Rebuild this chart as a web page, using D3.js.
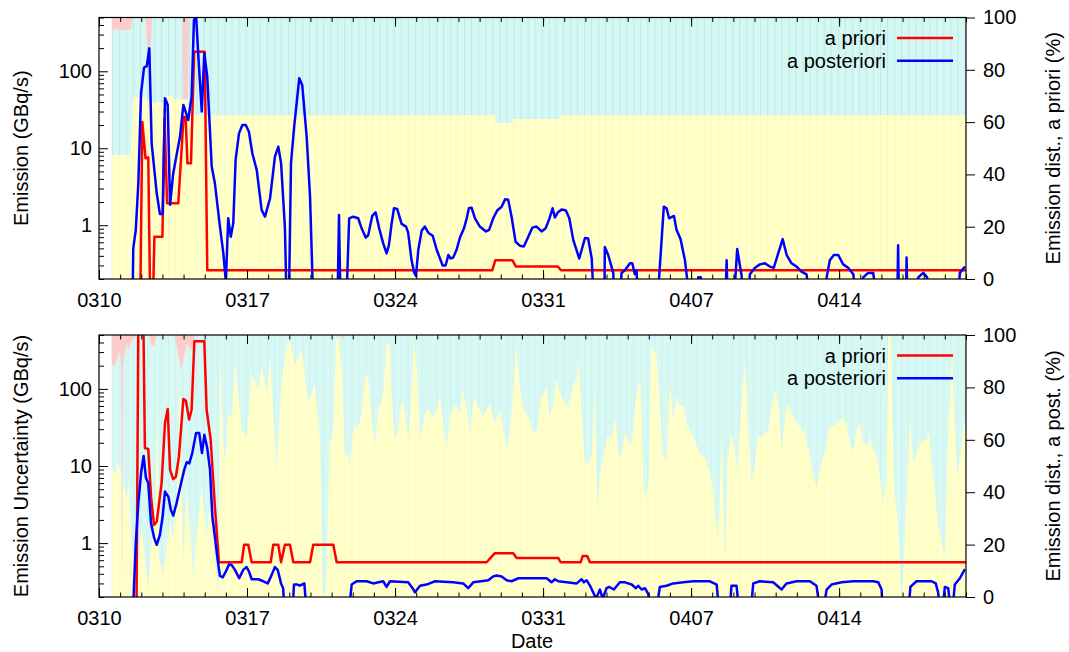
<!DOCTYPE html>
<html>
<head>
<meta charset="utf-8">
<script src="https://cdn.jsdelivr.net/npm/d3@7"></script>
<style>
body { margin: 0; background: #fff; }
text { font-family: "Liberation Sans", Arial, sans-serif; }
</style>
</head>
<body>
<svg id="chart" width="1069" height="652"></svg>
<script>
// times are days after 0310 00:00, values in GBq/s or %

// --- top panel: emission ---
var topPriori = [[1.95,0.1],[2.05,22],[2.20,7.4],[2.33,7.6],[2.42,0.1],[2.55,0.1],[2.62,0.71],[3.00,0.71],[3.10,24.5],[3.22,1.93],[3.75,1.93],[4.00,25.7],[4.10,25],[4.18,6.4],[4.35,6.4],[4.50,180],[5.00,180],[5.12,0.26],[18.60,0.26],[18.74,0.35],[19.55,0.35],[19.72,0.29],[21.70,0.29],[21.85,0.26],[41,0.26]];

var topPost = [[1.59,0.1],[1.62,0.5],[1.74,0.87],[1.86,3.5],[1.99,52],[2.13,112],[2.26,117],[2.38,199],[2.49,11.6],[2.73,2.6],[2.88,1.4],[3.01,1.4],[3.12,44.7],[3.25,36.6],[3.36,1.84],[3.51,4.7],[3.67,8.2],[3.83,14.1],[3.99,36.6],[4.22,23.3],[4.38,46.8],[4.49,464],[4.59,540],[4.70,155],[4.86,30],[4.98,171],[5.12,85],[5.33,5.8],[5.48,3.5],[5.72,0.96],[5.88,0.43],[6.00,0.185],[6.11,1.23],[6.23,0.71],[6.35,1.06],[6.46,7.05],[6.62,15.6],[6.78,20],[6.94,20],[7.09,16.4],[7.25,8.6],[7.46,5.2],[7.69,1.58],[7.85,1.29],[8.09,2.24],[8.32,7.8],[8.48,10.5],[8.61,6.4],[8.79,0.96],[8.87,0.1],[8.98,0.1],[9.08,6.4],[9.23,19.1],[9.47,81],[9.61,66.4],[9.82,14.1],[9.98,2.35],[10.13,0.1],
  [11.28,0.1],[11.35,1.36],[11.42,0.1],[11.70,0.1],[11.83,1.23],[12.02,1.29],[12.26,1.23],[12.42,0.91],[12.61,0.69],[12.73,0.74],[12.92,1.32],[13.08,1.47],[13.25,0.91],[13.44,0.58],[13.60,0.43],[13.71,0.55],[13.84,1.06],[13.95,1.66],[14.10,1.63],[14.31,1.04],[14.52,0.96],[14.62,0.80],[14.78,0.35],[14.91,0.24],[14.99,0.22],[15.10,0.48],[15.26,0.85],[15.41,0.96],[15.57,0.80],[15.78,0.73],[15.97,0.48],[16.25,0.30],[16.39,0.30],[16.52,0.41],[16.63,0.37],[16.75,0.38],[16.91,0.48],[17.07,0.69],[17.26,0.91],[17.39,1.23],[17.49,1.66],[17.62,1.69],[17.78,1.23],[18.01,0.96],[18.30,0.83],[18.45,0.87],[18.64,1.23],[18.83,1.55],[19.04,1.74],[19.21,2.18],[19.35,2.15],[19.51,1.29],[19.70,0.61],[19.91,0.54],[20.09,0.53],[20.30,0.71],[20.49,0.93],[20.69,0.96],[20.93,0.83],[21.12,0.91],[21.29,1.2],[21.45,1.66],[21.56,1.26],[21.69,1.46],[21.88,1.6],[22.08,1.55],[22.24,1.23],[22.43,0.64],[22.71,0.37],[22.98,0.68],[23.13,0.67],[23.30,0.37],[23.40,0.1],
  [23.90,0.1],[23.92,0.52],[24.08,0.41],[24.32,0.24],[24.37,0.1],[24.63,0.1],[24.71,0.24],[24.87,0.26],[25.11,0.32],[25.22,0.32],[25.34,0.23],[25.42,0.26],[25.50,0.1],
  [26.41,0.1],[26.71,1.74],[26.84,1.66],[26.96,1.23],[27.19,1.32],[27.31,0.87],[27.50,0.66],[27.71,0.35],[27.94,0.1],[28.23,0.1],[28.34,0.21],[28.46,0.21],[28.56,0.1],
  [29.62,0.1],[29.68,0.35],[29.73,0.1],[30.02,0.1],[30.18,0.49],[30.39,0.22],[30.45,0.1],
  [30.69,0.1],[30.78,0.23],[31.02,0.28],[31.25,0.31],[31.49,0.32],[31.72,0.29],[31.91,0.28],[32.12,0.43],[32.33,0.66],[32.52,0.41],[32.75,0.32],[32.99,0.29],[33.22,0.25],[33.46,0.23],[33.62,0.1],
  [34.33,0.1],[34.41,0.21],[34.56,0.35],[34.75,0.41],[34.96,0.41],[35.19,0.31],[35.43,0.28],[35.67,0.23],[35.83,0.1],
  [36.03,0.1],[36.14,0.21],[36.37,0.24],[36.61,0.24],[36.80,0.1],
  [37.75,0.1],[37.79,0.55],[37.83,0.1],[38.16,0.1],[38.19,0.38],[38.23,0.1],
  [38.63,0.1],[38.74,0.21],[38.98,0.24],[39.16,0.21],[39.24,0.1],
  [40.61,0.1],[40.71,0.24],[40.95,0.29]];

// a priori emission distribution (%), pink on top, cyan the rest
var topDistDay = [0.60,1.50,1.62,2.20,2.28,2.45,2.52,3.05,3.10,3.45,3.50,3.95,4.00,4.20,4.26,18.70,18.76,19.55,19.60,21.78,21.82,41];
var topYellow  = [47.4,47.4,69.6,69.6,68.3,68.3,67.4,67.4,70,70,68.7,68.7,68.7,68.7,62.6,62.6,59.7,59.7,61.2,61.2,62.6,62.6];
var topPink    = [4.7,4.7,0,0,11,11,0,0,0,0,0,0,31.3,31.3,0,0,0,0,0,0,0,0];

// --- bottom panel: uncertainty ---
var botPriori = [[1.77,0.1],[1.86,700],[2.10,700],[2.17,17.1],[2.33,16.6],[2.46,4.0],[2.60,1.72],[2.73,1.89],[2.96,6.0],[3.12,36],[3.25,55],[3.36,8.9],[3.51,6.75],[3.64,7.3],[3.78,13.3],[3.99,74],[4.11,70],[4.26,40],[4.38,53.6],[4.51,414],[4.98,414],[5.09,53.6],[5.28,21.9],[5.48,2.98],[5.67,0.565],[6.75,0.565],[6.86,0.95],[7.06,0.95],[7.22,0.565],[8.12,0.565],[8.24,0.95],[8.48,0.95],[8.61,0.565],[8.79,0.95],[9.03,0.95],[9.19,0.565],[9.98,0.565],[10.13,0.95],[11.08,0.95],[11.24,0.565],[18.33,0.565],[18.72,0.74],[19.59,0.74],[19.75,0.64],[21.72,0.64],[21.83,0.565],[22.78,0.565],[22.87,0.68],[23.09,0.68],[23.21,0.565],[41,0.565]];

var botPost = [[1.59,0.1],[1.74,1.0],[1.86,3.3],[1.99,8.1],[2.11,13.5],[2.22,7.0],[2.33,6.0],[2.46,1.81],[2.61,1.16],[2.73,0.95],[2.88,1.28],[3.01,2.21],[3.12,4.66],[3.28,4.0],[3.40,2.7],[3.51,2.27],[3.67,3.3],[3.88,6.0],[4.03,8.9],[4.15,11.2],[4.27,10.8],[4.41,14.7],[4.59,26.7],[4.74,26.7],[4.87,14.7],[4.98,25.4],[5.12,17.1],[5.25,8.9],[5.36,2.21],[5.48,1.21],[5.61,0.605],[5.72,0.375],[5.85,0.36],[6.00,0.43],[6.15,0.53],[6.27,0.52],[6.43,0.45],[6.63,0.35],[6.82,0.45],[6.98,0.49],[7.09,0.43],[7.22,0.34],[7.53,0.34],[7.77,0.32],[7.98,0.30],[8.17,0.39],[8.32,0.49],[8.45,0.45],[8.61,0.30],[8.71,0.26],[8.79,0.1],[9.13,0.1],[9.22,0.29],[9.38,0.29],[9.50,0.28],[9.71,0.30],[9.85,0.1],
  [11.77,0.1],[11.95,0.29],[12.18,0.32],[12.66,0.32],[12.97,0.30],[13.21,0.31],[13.44,0.32],[13.60,0.27],[13.76,0.32],[14.62,0.31],[14.83,0.26],[14.94,0.23],[15.18,0.28],[15.49,0.29],[15.89,0.32],[16.75,0.31],[17.22,0.30],[17.46,0.26],[17.70,0.31],[18.41,0.33],[18.64,0.37],[18.80,0.38],[19.04,0.37],[19.28,0.33],[19.51,0.32],[19.83,0.35],[20.14,0.35],[21.17,0.35],[21.40,0.31],[21.56,0.34],[21.72,0.32],[22.11,0.31],[22.59,0.30],[22.82,0.34],[22.93,0.31],[23.06,0.33],[23.25,0.27],[23.40,0.22],[23.50,0.19],[23.69,0.25],[23.82,0.19],[24.00,0.26],[24.13,0.27],[24.35,0.25],[24.63,0.31],[24.87,0.31],[25.19,0.29],[25.39,0.26],[25.50,0.28],[25.66,0.25],[25.82,0.26],[25.97,0.22],[26.21,0.1],[26.29,0.1],[26.52,0.27],[26.84,0.28],[27.15,0.30],[27.63,0.31],[28.10,0.32],[28.89,0.32],[29.21,0.29],[29.36,0.1],[29.79,0.1],[29.91,0.28],[30.15,0.28],[30.31,0.1],[30.78,0.1],[30.94,0.30],[31.25,0.32],[31.88,0.31],[32.28,0.25],[32.51,0.30],[32.99,0.32],[33.62,0.32],[33.93,0.28],[34.17,0.1],[34.41,0.25],[34.64,0.29],[35.12,0.31],[35.67,0.32],[36.61,0.32],[36.85,0.31],[37.01,0.25],[37.08,0.1],[38.25,0.1],[38.37,0.27],[38.66,0.32],[39.37,0.32],[39.57,0.30],[39.68,0.23],[39.84,0.1],[40.00,0.27],[40.16,0.26],[40.32,0.1],[40.47,0.29],[40.71,0.35],[40.95,0.46]];

// a posteriori emission distribution (%)
var botYellow = [[0.60,49.7],[0.76,46.6],[0.91,51],[1.04,48],[1.09,2],[1.13,45],[1.31,37],[1.39,44.7],[1.55,19],[1.70,10],[1.86,16.7],[2.02,27],[2.17,14],[2.33,4],[2.49,20.5],[2.65,30],[2.74,70],[2.84,15],[3.04,9],[3.20,19],[3.36,29],[3.51,22],[3.67,37],[3.83,83],[3.99,14],[4.15,40],[4.30,27],[4.46,7.8],[4.62,24],[4.86,42],[5.09,23],[5.25,37],[5.48,14],[5.64,1.5],[5.72,93],[5.86,60],[5.96,52],[6.11,69],[6.27,69],[6.43,90],[6.75,63.7],[6.98,61],[7.22,85],[7.53,79],[7.69,88],[7.93,77.7],[8.09,91.7],[8.40,48.5],[8.64,82.8],[8.95,99],[9.27,89],[9.58,94],[9.90,74],[10.21,81.6],[10.45,60],[10.59,1.4],[10.73,1.4],[10.92,58.6],[11.08,63.7],[11.21,98],[11.31,99],[11.48,86.6],[11.63,54.8],[11.79,53.6],[11.87,50.4],[12.02,63.7],[12.15,65.6],[12.26,65],[12.42,70],[12.62,85.4],[12.73,84],[12.89,68.8],[13.05,58],[13.21,71.4],[13.44,77.7],[13.60,96.8],[13.73,97.4],[13.84,76.5],[14.00,60],[14.15,63.7],[14.31,75.2],[14.47,70],[14.62,60],[14.78,76.5],[14.89,98],[15.02,89],[15.18,60],[15.33,66.3],[15.49,71.4],[15.65,71.4],[15.81,68.2],[15.97,71.4],[16.12,77],[16.31,63.7],[16.44,56],[16.60,68.8],[16.75,72.6],[16.91,73.3],[17.07,70],[17.22,79.6],[17.39,71.4],[17.54,63],[17.73,76.5],[17.93,72.6],[18.17,68.8],[18.49,73.9],[18.72,66.3],[18.96,71.4],[19.12,63.7],[19.31,56.7],[19.51,68.8],[19.72,96.8],[19.87,82.8],[20.06,71.4],[20.30,68.8],[20.53,62.5],[20.72,63.7],[20.93,76.5],[21.17,79.6],[21.32,68.8],[21.48,73.3],[21.64,84],[21.80,77.7],[22.03,73.9],[22.19,72],[22.43,81.6],[22.59,82.2],[22.66,91.7],[22.82,70],[22.98,51],[23.13,51],[23.30,53.6],[23.45,79.6],[23.56,33],[23.69,47.2],[23.85,53.6],[24.03,61.2],[24.24,61.2],[24.40,68.8],[24.55,54.8],[24.71,53.6],[24.87,62.5],[25.03,60],[25.19,58],[25.34,72.6],[25.50,80.3],[25.61,84],[25.74,42],[25.86,37],[26.00,46],[26.10,94],[26.21,95],[26.37,92],[26.52,72.6],[26.68,53.6],[26.84,52.3],[26.99,81.6],[27.15,67.6],[27.31,77],[27.47,72.6],[27.63,73.3],[27.79,66.3],[27.94,63.7],[28.18,60],[28.42,54.2],[28.65,53.6],[28.89,47.2],[29.05,40.8],[29.21,23],[29.33,32],[29.44,60],[29.60,14],[29.71,51],[29.91,62.5],[30.07,56],[30.18,47.2],[30.31,65],[30.46,81.6],[30.59,89.8],[30.70,63.7],[30.86,43.4],[31.02,51],[31.17,61.2],[31.41,61.8],[31.65,63.7],[31.81,72.6],[31.96,79],[32.12,74],[32.28,56.7],[32.43,67.6],[32.59,73.9],[32.75,70],[32.91,67.6],[33.14,65],[33.38,62.5],[33.62,53.6],[33.77,46],[33.93,42],[34.09,48.5],[34.33,56],[34.56,65],[34.80,65.6],[35.04,67.6],[35.19,68.8],[35.35,65.6],[35.51,58.6],[35.67,56],[35.83,63.7],[35.98,66.3],[36.14,58.6],[36.30,58],[36.45,60.6],[36.61,56.7],[36.77,53.6],[36.93,46],[37.08,35.7],[37.24,44.6],[37.32,100],[37.43,100],[37.53,63.7],[37.64,38.2],[37.79,26.8],[37.95,0],[38.06,12.8],[38.19,38.2],[38.35,68.8],[38.50,51],[38.66,54.8],[38.82,58.6],[38.98,59.9],[39.14,59.9],[39.26,62.5],[39.37,51],[39.53,40.8],[39.69,26.8],[39.85,20.5],[40.00,15.4],[40.11,51],[40.26,81.6],[40.34,94],[40.45,66.3],[40.58,46],[40.73,54.8],[40.89,65],[41.0,68]];
var botPink = [[0.60,11.5],[0.76,11.5],[0.99,6],[1.04,12],[1.09,96],[1.13,12],[1.31,3],[1.39,6],[1.55,2],[1.70,1],[1.83,0],[2.36,0],[2.46,4],[2.61,4],[2.73,0],[3.56,0],[3.67,4.5],[3.88,13.4],[3.99,9.5],[4.15,3.2],[4.38,6],[4.54,0],[11.40,0],[11.50,2],[11.60,0],[41,0]];

var yTicks = [1, 10, 100];
var pctTicks = [0, 20, 40, 60, 80, 100];
var seriesNames = ['a priori', 'a posteriori'];

var t0 = Date.UTC(2011, 2, 10);
function day(d) { return new Date(t0 + d * 864e5); }

var svg = d3.select('#chart');
var font = '"Liberation Sans", Arial, sans-serif';

var x = d3.scaleUtc()
    .domain([day(0), day(41)])
    .range([99, 966]);

var defs = svg.append('defs');
var stripeW = x(day(1 / 3)) - x(day(0));
function stripes(id, bg, line) {
  var p = defs.append('pattern')
      .attr('id', id)
      .attr('patternUnits', 'userSpaceOnUse')
      .attr('x', x(day(0.6)))
      .attr('width', stripeW)
      .attr('height', 10);
  p.append('rect').attr('width', stripeW).attr('height', 10).attr('fill', bg);
  p.append('rect').attr('width', 1).attr('height', 10).attr('fill', line);
}
stripes('cyanTop', '#d6f7f3', '#b2efe7');
stripes('yellowTop', '#ffffcc', '#fffaa8');
stripes('cyanBot', '#d8f8f4', '#cbf3ee');
stripes('yellowBot', '#ffffcc', '#fffbb8');

var panels = [
  { top: 17.5, bottom: 279, priori: topPriori, post: topPost,
    yellow: topDistDay.map(function(d, i) { return [d, topYellow[i]]; }),
    pink: topDistDay.map(function(d, i) { return [d, topPink[i]]; }),
    cyanFill: 'url(#cyanTop)', yellowFill: 'url(#yellowTop)',
    ylab: 'Emission (GBq/s)', y2lab: 'Emission dist., a priori (%)' },
  { top: 335, bottom: 597, priori: botPriori, post: botPost,
    yellow: botYellow, pink: botPink,
    cyanFill: 'url(#cyanBot)', yellowFill: 'url(#yellowBot)',
    ylab: 'Emission Uncertainty (GBq/s)', y2lab: 'Emission dist., a post. (%)' }
];

panels.forEach(function(p, k) {
  var y = d3.scaleLog().domain([0.2, 500]).range([p.bottom, p.top]);
  var yp = d3.scaleLinear().domain([0, 100]).range([p.bottom, p.top]);
  var mid = (p.top + p.bottom) / 2;

  defs.append('clipPath').attr('id', 'clip' + k)
    .append('rect')
      .attr('x', 99).attr('y', p.top)
      .attr('width', 867).attr('height', p.bottom - p.top);

  var g = svg.append('g').attr('clip-path', 'url(#clip' + k + ')');

  // distribution background
  var first = p.yellow[0][0], last = p.yellow[p.yellow.length - 1][0];
  g.append('path')
    .datum([first, last])
    .attr('fill', p.cyanFill)
    .attr('d', d3.area()
      .x(function(d) { return x(day(d)); })
      .y0(yp(0)).y1(yp(100)));
  g.append('path')
    .datum(p.yellow)
    .attr('fill', p.yellowFill)
    .attr('d', d3.area()
      .x(function(d) { return x(day(d[0])); })
      .y0(yp(0))
      .y1(function(d) { return yp(d[1]); }));
  g.append('path')
    .datum(p.pink)
    .attr('fill', '#ffcccc')
    .attr('d', d3.area()
      .x(function(d) { return x(day(d[0])); })
      .y0(function(d) { return yp(100 - d[1]); })
      .y1(yp(100)));

  var line = d3.line()
    .x(function(d) { return x(day(d[0])); })
    .y(function(d) { return y(d[1]); });

  g.append('path').datum(p.priori)
    .attr('fill', 'none').attr('stroke', '#ff0000')
    .attr('stroke-width', 2.5).attr('stroke-linejoin', 'round')
    .attr('d', line);
  g.append('path').datum(p.post)
    .attr('fill', 'none').attr('stroke', '#0000ff')
    .attr('stroke-width', 2.5).attr('stroke-linejoin', 'round')
    .attr('d', line);

  // axes
  var weeks = d3.utcDay.range(day(0), day(41), 7);
  var days = d3.utcDay.range(day(0), day(41.5));
  var minors = y.ticks().filter(function(v) { return yTicks.indexOf(v) < 0; });

  function style(a) {
    a.select('.domain').remove();
    a.attr('font-size', 20).attr('font-family', font);
    a.selectAll('line').attr('stroke', '#000');
    a.selectAll('text').attr('fill', '#000');
  }

  svg.append('g').attr('transform', 'translate(0,' + p.bottom + ')')
    .call(d3.axisBottom(x).tickValues(weeks).tickSize(-9).tickPadding(14)
      .tickFormat(d3.utcFormat('%m%d')))
    .call(style);
  svg.append('g').attr('transform', 'translate(0,' + p.bottom + ')')
    .call(d3.axisBottom(x).tickValues(days).tickSize(-4.5).tickFormat(''))
    .call(style);
  svg.append('g').attr('transform', 'translate(0,' + p.top + ')')
    .call(d3.axisTop(x).tickValues(weeks).tickSize(-9).tickFormat(''))
    .call(style);
  svg.append('g').attr('transform', 'translate(0,' + p.top + ')')
    .call(d3.axisTop(x).tickValues(days).tickSize(-4.5).tickFormat(''))
    .call(style);

  svg.append('g').attr('transform', 'translate(99,0)')
    .call(d3.axisLeft(y).tickValues(yTicks).tickSize(-9).tickPadding(7)
      .tickFormat(d3.format('d')))
    .call(style);
  svg.append('g').attr('transform', 'translate(99,0)')
    .call(d3.axisLeft(y).tickValues(minors).tickSize(-5).tickFormat(''))
    .call(style);

  svg.append('g').attr('transform', 'translate(966,0)')
    .call(d3.axisRight(yp).tickValues(pctTicks).tickSize(9).tickPadding(8))
    .call(style);

  svg.append('rect')
    .attr('x', 99).attr('y', p.top)
    .attr('width', 867).attr('height', p.bottom - p.top)
    .attr('fill', 'none').attr('stroke', '#000').attr('stroke-width', 1.2);

  // axis titles
  svg.append('text')
    .attr('transform', 'translate(21,' + mid + ') rotate(-90)')
    .attr('text-anchor', 'middle').attr('dy', '0.35em')
    .attr('font-size', 20).text(p.ylab);
  svg.append('text')
    .attr('transform', 'translate(1053,' + mid + ') rotate(-90)')
    .attr('text-anchor', 'middle').attr('dy', '0.35em')
    .attr('font-size', 20).text(p.y2lab);

  // legend
  var leg = svg.append('g');
  ['#ff0000', '#0000ff'].forEach(function(c, i) {
    var ly = p.top + 20.5 + i * 22.7;
    leg.append('text')
      .attr('x', 886).attr('y', ly).attr('dy', '0.35em')
      .attr('text-anchor', 'end').attr('font-size', 20)
      .text(seriesNames[i]);
    leg.append('line')
      .attr('x1', 897).attr('x2', 953).attr('y1', ly).attr('y2', ly)
      .attr('stroke', c).attr('stroke-width', 2.5);
  });
});

svg.append('text')
  .attr('x', 532).attr('y', 648)
  .attr('text-anchor', 'middle').attr('font-size', 20)
  .text('Date');
</script>
</body>
</html>
